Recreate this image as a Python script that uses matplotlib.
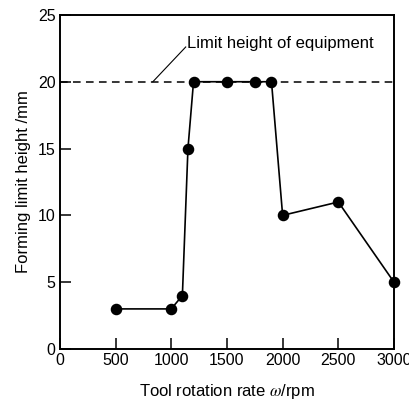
import matplotlib
matplotlib.use('Agg')
import matplotlib.pyplot as plt

plt.rcParams['font.family'] = 'Liberation Sans'
plt.rcParams['mathtext.fontset'] = 'stix'

# data
rate = [500, 1000, 1100, 1150, 1200, 1500, 1750, 1900, 2000, 2500, 3000]
height = [3, 3, 4, 15, 20, 20, 20, 20, 10, 11, 5]
limit_height = 20

fig = plt.figure(figsize=(4.1, 4.03), dpi=100)
ax = fig.add_axes([0.146, 0.134, 0.815, 0.829])

ax.axhline(limit_height, color='black', linestyle=(0, (5, 3.5)), linewidth=1.1, zorder=1)
ax.plot(rate, height, color='black', linewidth=1.2, marker='o', markersize=7.3,
        clip_on=False, zorder=3)

# leader line + label for the equipment limit
ax.plot([835, 1130], [limit_height, 22.6], color='black', linewidth=0.8)
ax.text(1140, 22.5, 'Limit height of equipment', fontsize=12, va='baseline', ha='left')

ax.set_xlim(0, 3000)
ax.set_ylim(0, 25)
ax.set_xticks([0, 500, 1000, 1500, 2000, 2500, 3000])
ax.set_yticks([0, 5, 10, 15, 20, 25])
ax.tick_params(direction='in', length=8, width=1.1, labelsize=11.5, pad=3)
for s in ax.spines.values():
    s.set_linewidth(1.4)

ax.set_xlabel(r'Tool rotation rate $\omega$/rpm', fontsize=12, labelpad=10)
ax.set_ylabel('Forming limit height /mm', fontsize=12, labelpad=5)

plt.savefig('out.png', dpi=100)
